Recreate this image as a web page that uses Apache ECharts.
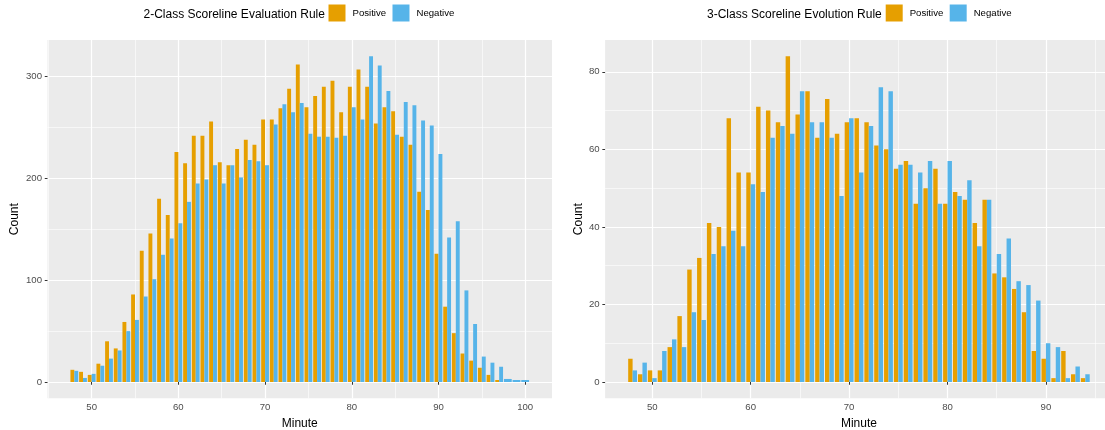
<!DOCTYPE html>
<html>
<head>
<meta charset="utf-8">
<script src="https://cdn.jsdelivr.net/npm/echarts@6/dist/echarts.min.js"></script>
<style>
  html, body { margin: 0; padding: 0; background: #ffffff; }
  #chart { width: 1105px; height: 430px; }
</style>
</head>
<body>
<div id="chart"></div>
<script>
// ---- 2-class rule: counts per minute ----
const minutesTwoClass = [48, 49, 50, 51, 52, 53, 54, 55, 56, 57, 58, 59, 60, 61, 62, 63, 64, 65, 66, 67,
  68, 69, 70, 71, 72, 73, 74, 75, 76, 77, 78, 79, 80, 81, 82, 83, 84, 85, 86, 87,
  88, 89, 90, 91, 92, 93, 94, 95, 96, 97, 98, 99, 100];
const positiveTwoClass = [12, 10, 7, 18, 40, 33, 59, 86, 129, 146, 180, 164, 226, 215, 242, 242, 256, 216, 213, 229,
  238, 233, 258, 258, 269, 288, 312, 270, 281, 290, 296, 265, 290, 307, 290, 254, 270, 266, 241, 233,
  187, 169, 126, 74, 48, 28, 21, 14, 7, 2, null, null, null];
const negativeTwoClass = [11, 4, 8, 16, 23, 31, 50, 61, 84, 101, 125, 141, 156, 177, 195, 199, 213, 195, 213, 201,
  218, 217, 213, 253, 273, 265, 274, 244, 241, 241, 240, 242, 270, 258, 320, 311, 286, 243, 275, 272,
  257, 252, 224, 142, 158, 90, 57, 25, 19, 15, 3, 2, 2];

// ---- 3-class rule: counts per minute ----
const minutesThreeClass = [48, 49, 50, 51, 52, 53, 54, 55, 56, 57, 58, 59, 60, 61, 62, 63, 64, 65, 66, 67,
  68, 69, 70, 71, 72, 73, 74, 75, 76, 77, 78, 79, 80, 81, 82, 83, 84, 85, 86, 87,
  88, 89, 90, 91, 92, 93, 94];
const positiveThreeClass = [6, 2, 3, 3, 9, 17, 29, 32, 41, 40, 68, 54, 54, 71, 70, 67, 84, 69, 75, 63,
  73, 64, 67, 68, 67, 61, 60, 55, 57, 46, 50, 55, 46, 49, 47, 41, 47, 28, 27, 24,
  18, 8, 6, 1, 8, 2, 1];
const negativeThreeClass = [3, 5, 1, 8, 11, 9, 18, 16, 33, 35, 39, 35, 51, 49, 63, 66, 64, 75, 67, 67,
  63, 48, 68, 54, 66, 76, 75, 56, 56, 54, 57, 46, 57, 48, 52, 35, 47, 33, 37, 26,
  25, 21, 10, 9, 1, 4, 2];

// ---- axis breaks ----
const twoClassXTicks = [50, 60, 70, 80, 90, 100];
const twoClassXMinor = [45, 55, 65, 75, 85, 95];
const twoClassYTicks = [0, 100, 200, 300];
const twoClassYMinor = [50, 150, 250];
const threeClassXTicks = [50, 60, 70, 80, 90];
const threeClassXMinor = [55, 65, 75, 85, 95];
const threeClassYTicks = [0, 20, 40, 60, 80];
const threeClassYMinor = [10, 30, 50, 70];

const panelTitles = ['2-Class Scoreline Evaluation Rule', '3-Class Scoreline Evolution Rule'];
const groupNames = ['Positive', 'Negative'];

const FONT = "'Liberation Sans', Arial, Helvetica, sans-serif";
const ORANGE = '#E69F00';
const BLUE = '#56B4E9';
const PANEL_BG = '#EBEBEB';

// continuous x scale: dodged bars are 0.9 wide, then 5% expansion on both sides
function xRange(minutes) {
  const lo = Math.min(...minutes) - 0.45;
  const hi = Math.max(...minutes) + 0.45;
  const pad = (hi - lo) * 0.05;
  return [lo - pad, hi + pad];
}
// count scale: starts at zero, 5% expansion on both sides
function yRange(a, b) {
  const m = Math.max(...a.concat(b).filter(v => v != null));
  return [-m * 0.05, m * 1.05];
}

function majorX(grid, range, ticks) {
  return {
    type: 'value', gridIndex: grid, min: range[0], max: range[1], position: 'bottom',
    axisLine: { show: false },
    axisTick: { show: true, length: 2.75, customValues: ticks, lineStyle: { color: '#333333', width: 1 } },
    axisLabel: { customValues: ticks, color: '#4D4D4D', fontSize: 9.6, margin: 4.5, fontFamily: FONT },
    splitLine: { show: true, lineStyle: { color: '#ffffff', width: 1.2 } },
    name: 'Minute', nameLocation: 'middle', nameGap: 18,
    nameTextStyle: { color: '#000000', fontSize: 12, fontFamily: FONT }
  };
}
function minorX(grid, range, ticks) {
  return {
    type: 'value', gridIndex: grid, min: range[0], max: range[1], position: 'bottom',
    axisLine: { show: false },
    axisTick: { show: false, customValues: ticks },
    axisLabel: { show: false, customValues: ticks },
    splitLine: { show: true, lineStyle: { color: '#ffffff', width: 0.6 } }
  };
}
function majorY(grid, range, ticks, nameGap) {
  return {
    type: 'value', gridIndex: grid, min: range[0], max: range[1],
    axisLine: { show: false },
    axisTick: { show: true, length: 2.75, customValues: ticks, lineStyle: { color: '#333333', width: 1 } },
    axisLabel: { customValues: ticks, color: '#4D4D4D', fontSize: 9.6, margin: 5.5, fontFamily: FONT },
    splitLine: { show: true, lineStyle: { color: '#ffffff', width: 1.2 } },
    name: 'Count', nameLocation: 'middle', nameGap: nameGap, nameRotate: 90,
    nameTextStyle: { color: '#000000', fontSize: 12, fontFamily: FONT }
  };
}
function minorY(grid, range, ticks) {
  return {
    type: 'value', gridIndex: grid, min: range[0], max: range[1],
    axisLine: { show: false },
    axisTick: { show: false, customValues: ticks },
    axisLabel: { show: false, customValues: ticks },
    splitLine: { show: true, lineStyle: { color: '#ffffff', width: 0.6 } }
  };
}

// Dodged bars; where one group has no count the other fills the whole slot
function panelSeries(minutes, pos, neg, xMain, xAlt, yIdx) {
  const both = i => pos[i] != null && neg[i] != null;
  const pick = (vals, keep) => minutes.map((m, i) => [m, vals[i]]).filter((p, i) => p[1] != null && keep(i));
  const common = { type: 'bar', yAxisIndex: yIdx, barGap: '0%', silent: true, animation: false };
  const list = [
    Object.assign({}, common, { name: groupNames[0], xAxisIndex: xMain, barWidth: '45%',
      itemStyle: { color: ORANGE }, data: pick(pos, both) }),
    Object.assign({}, common, { name: groupNames[1], xAxisIndex: xMain, barWidth: '45%',
      itemStyle: { color: BLUE }, data: pick(neg, both) }),
    Object.assign({}, common, { name: groupNames[0], xAxisIndex: xAlt, barWidth: '90%',
      itemStyle: { color: ORANGE }, data: pick(pos, i => !both(i)) }),
    Object.assign({}, common, { name: groupNames[1], xAxisIndex: xAlt, barWidth: '90%',
      itemStyle: { color: BLUE }, data: pick(neg, i => !both(i)) })
  ];
  // empty series would still reserve a slot in the bar layout
  return list.filter(s => s.data.length > 0);
}

const xA = xRange(minutesTwoClass), yA = yRange(positiveTwoClass, negativeTwoClass);
const xB = xRange(minutesThreeClass), yB = yRange(positiveThreeClass, negativeThreeClass);

function legendAt(left) {
  return {
    left: left, top: 4.5, padding: 0, orient: 'horizontal',
    icon: 'rect', itemWidth: 17, itemHeight: 17, itemGap: 6.4,
    selectedMode: false, data: groupNames,
    textStyle: { fontSize: 9.6, color: '#000000', fontFamily: FONT, padding: [3, 0, 0, 2] }
  };
}
function titleAt(text, left) {
  return {
    text: text, left: left, top: 9, padding: 0,
    textStyle: { fontSize: 12, fontWeight: 'normal', color: '#000000', fontFamily: FONT }
  };
}

function panelGrid(left, width) {
  return {
    left: left, top: 40, width: width, height: 358.3,
    outerBoundsMode: 'none', containLabel: false,
    show: true, backgroundColor: PANEL_BG, borderWidth: 0
  };
}

const chart = echarts.init(document.getElementById('chart'), null, { renderer: 'canvas' });
chart.setOption({
  animation: false,
  backgroundColor: '#ffffff',
  title: [titleAt(panelTitles[0], 143.5), titleAt(panelTitles[1], 707)],
  legend: [legendAt(328.5), legendAt(885.7)],
  grid: [panelGrid(47.5, 504.5), panelGrid(605.1, 507.7)],
  xAxis: [
    majorX(0, xA, twoClassXTicks),
    minorX(0, xA, twoClassXMinor),
    majorX(1, xB, threeClassXTicks),
    minorX(1, xB, threeClassXMinor)
  ],
  yAxis: [
    majorY(0, yA, twoClassYTicks, 26.5),
    minorY(0, yA, twoClassYMinor),
    majorY(1, yB, threeClassYTicks, 19.5),
    minorY(1, yB, threeClassYMinor)
  ],
  series: panelSeries(minutesTwoClass, positiveTwoClass, negativeTwoClass, 0, 1, 0)
    .concat(panelSeries(minutesThreeClass, positiveThreeClass, negativeThreeClass, 2, 3, 2))
});
</script>
</body>
</html>
